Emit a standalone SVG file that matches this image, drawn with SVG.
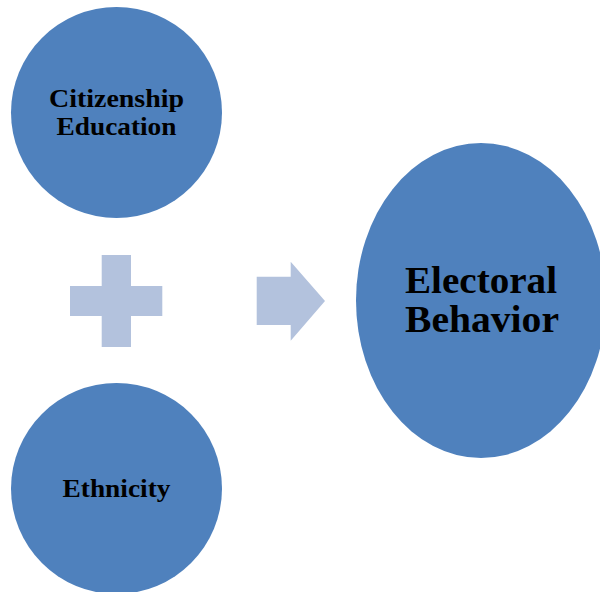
<svg xmlns="http://www.w3.org/2000/svg" width="600" height="592" viewBox="0 0 600 592">
<style>
.node{fill:#4F81BD;}
.conn{fill:#B3C2DD;}
text{font-family:"Liberation Serif","DejaVu Serif",serif;font-weight:bold;fill:#000;text-anchor:middle;}
.s{font-size:25px;}
.l{font-size:38px;}
</style>
<rect width="600" height="592" fill="#fff"/>
<g id="citizenship-education">
<circle class="node" cx="116.5" cy="112.5" r="105.5"/>
<text class="s" x="116.5" y="107" textLength="135" lengthAdjust="spacingAndGlyphs">Citizenship</text>
<text class="s" x="116.5" y="135" textLength="120" lengthAdjust="spacingAndGlyphs">Education</text>
</g>
<g id="ethnicity">
<circle class="node" cx="116.5" cy="488.5" r="105.5"/>
<text class="s" x="116.5" y="497" textLength="108" lengthAdjust="spacingAndGlyphs">Ethnicity</text>
</g>
<g id="electoral-behavior">
<ellipse class="node" cx="481" cy="300.5" rx="125" ry="157.5"/>
<text class="l" x="481" y="293" textLength="152" lengthAdjust="spacingAndGlyphs">Electoral</text>
<text class="l" x="482" y="332" textLength="154" lengthAdjust="spacingAndGlyphs">Behavior</text>
</g>
<g id="connectors">
<path class="conn" d="M101.7,255 H131 V286 H162.3 V316 H131 V347 H101.7 V316 H70 V286 H101.7 Z"/>
<path class="conn" d="M256.7,276.7 H290.7 V261.7 L325,301 L290.7,340.7 V325 H256.7 Z"/>
</g>
</svg>
